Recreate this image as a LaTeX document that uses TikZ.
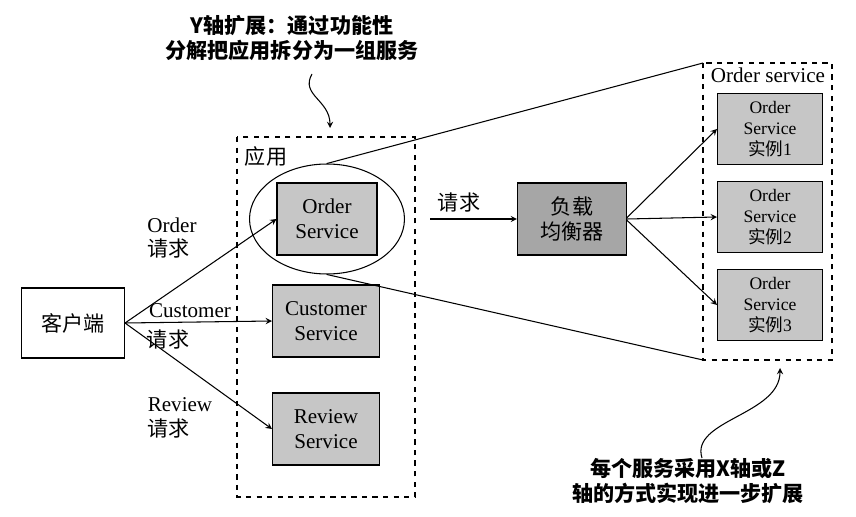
\documentclass[tikz,border=0pt]{standalone}
\usepackage{fontspec}
\setmainfont{Liberation Serif}
\newfontfamily\cjk{Noto Sans CJK SC}
\usetikzlibrary{arrows, positioning, shapes}

\begin{document}
\begin{tikzpicture}[x=0.02cm, y=-0.02cm,
  box/.style={draw, semithick, minimum width=2cm, minimum height=1.44cm, align=center, font=\large, inner sep=1pt},
  svc/.style={box, fill=gray!45},
  inst/.style={box, fill=gray!45, minimum width=2.1cm, minimum height=1.42cm, font=\normalsize, text width=1.9cm},
  grp/.style={draw, thick, dashed},
  arr/.style={->, >=stealth, semithick},
  lab/.style={font=\large, align=left, inner sep=1pt}]
\useasboundingbox (0,0) rectangle (856,517);
% groups
\draw[grp] (237,137) rectangle (415,497);
\node[lab] (applab) at (266,156) {\cjk 应用};
\draw[grp] (703,63) rectangle (832,360);
\node[font=\large] (oslab) at (768,75) {Order service};
% client and application
\node[box, minimum width=2.06cm, minimum height=1.4cm] (client) at (73,323) {\cjk 客户端};
\node[svc] (order) at (327,219) {Order\\Service};
\node[ellipse, draw, semithick, minimum width=3.1cm, minimum height=2.2cm] (ell) at (327,219) {};
\node[svc, minimum width=2.14cm] (customer) at (326,321) {Customer\\Service};
\node[svc, minimum width=2.14cm] (review) at (326,429) {Review\\Service};
% load balancer and instances
\node[svc, fill=gray!70, minimum width=2.18cm] (lb) at (572,219) {\cjk 负载\\\cjk 均衡器};
\node[inst] (i1) at (770,129) {Order\\Service\\{\cjk 实例}1};
\node[inst] (i2) at (770,217) {Order\\Service\\{\cjk 实例}2};
\node[inst] (i3) at (770,305) {Order\\Service\\{\cjk 实例}3};
% connectors
\draw[arr] (client.east) -- (order.west);
\node[lab] (ordq) at (172,238) {Order\\\cjk 请求};
\draw[arr] (client.east) -- (customer.west);
\node[lab] (custc) at (190,311) {Customer};
\node[lab] (custq) at (168,340) {\cjk 请求};
\draw[arr] (client.east) -- (review.west);
\node[lab] (revq) at (180,418) {Review\\\cjk 请求};
\coordinate (reqs) at (430,219);
\draw[arr] (reqs) -- (lb.west);
\node[lab] (lbq) at (459,203) {\cjk 请求};
\draw[arr] ([yshift=-20]lb.north east) -- (i1.west);
\draw[arr] (lb.east) -- (i2.west);
\draw[arr] ([yshift=20]lb.south east) -- (i3.west);
\coordinate (ostl) at (703,63);
\coordinate (osbl) at (703,360);
\draw[semithick] (ell.north) -- (ostl);
\draw[semithick] (ell.south) -- (osbl);
% callouts
\node[font=\large\bfseries\cjk, align=center] (ytxt) at (292,38) {Y轴扩展：通过功能性\\分解把应用拆分为一组服务};
\coordinate (yend) at (330,128);
\draw[arr] (312,74) .. controls (300,95) and (330,100) .. (yend);
\node[font=\large\bfseries\cjk, align=center] (xtxt) at (688,481) {每个服务采用\textit{X}轴或\textit{Z}\\轴的方式实现进一步扩展};
\coordinate (xend) at (780,368);
\draw[arr] (702,458) .. controls (690,420) and (780,415) .. (xend);
\end{tikzpicture}
\end{document}
